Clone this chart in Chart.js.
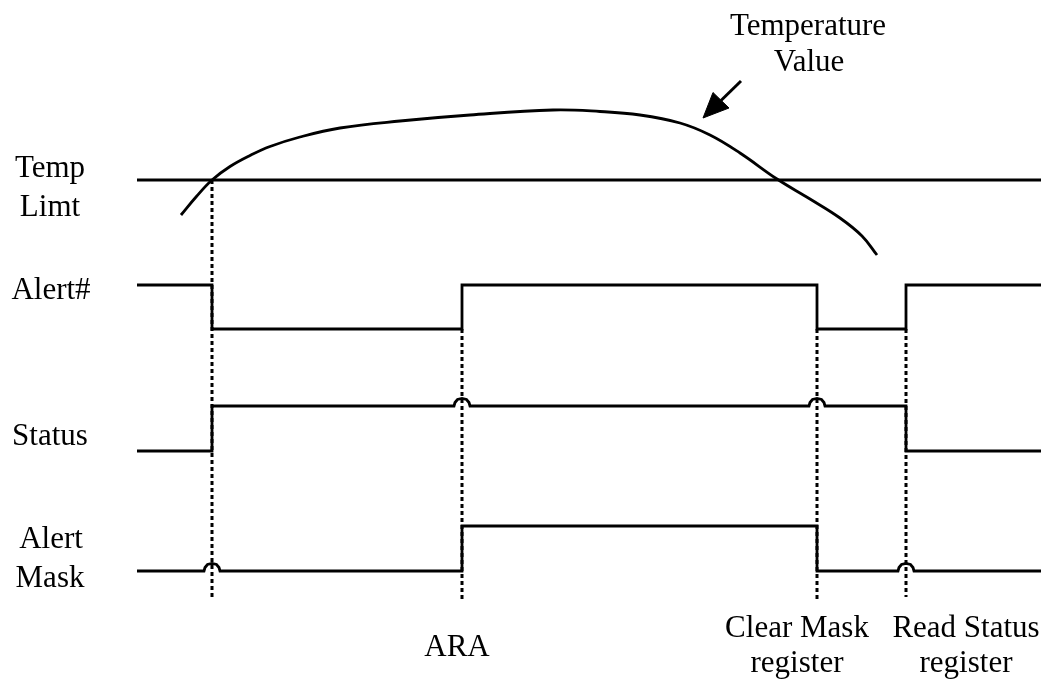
<!DOCTYPE html>
<html>
<head>
<meta charset="utf-8">
<script src="https://cdn.jsdelivr.net/npm/chart.js@4/dist/chart.umd.min.js"></script>
<style>
html,body{margin:0;padding:0;background:#fff;}
#wrap{width:1041px;height:679px;}
</style>
</head>
<body>
<div id="wrap"><canvas id="c" width="1041" height="679"></canvas></div>
<script>
// Time axis (horizontal units) and level axis (vertical units)
const limitX = [137, 1041];
const limitY = [180, 180];

const tempX = [181, 196, 212, 230, 250, 270, 300, 340, 400, 470, 553, 600, 640, 680, 710, 740, 777, 810, 840, 862, 877];
const tempY = [215, 197, 180, 166.5, 155.5, 146.5, 137, 128, 121, 115, 110, 111.5, 115, 123, 135, 153, 179, 199, 218, 236, 255];

const alertX = [137, 212, 212, 462, 462, 817, 817, 906, 906, 1041];
const alertY = [285, 285, 329, 329, 285, 285, 329, 329, 285, 285];

const statusX = [137, 212, 212, 454, 455, 457.5, 462, 466.5, 469, 470, 809, 810, 812.5, 817, 821.5, 824, 825, 906, 906, 1041];
const statusY = [451, 451, 406, 406, 402.5, 399.5, 398.5, 399.5, 402.5, 406, 406, 402.5, 399.5, 398.5, 399.5, 402.5, 406, 406, 451, 451];

const maskX = [137, 204, 205, 207.5, 212, 216.5, 219, 220, 462, 462, 817, 817, 898, 899, 901.5, 906, 910.5, 913, 914, 1041];
const maskY = [571, 571, 567.5, 564.5, 563.5, 564.5, 567.5, 571, 571, 526, 526, 571, 571, 567.5, 564.5, 563.5, 564.5, 567.5, 571, 571];

const markerX = [212, 462, 817, 906];
const markerTop = [180, 329, 329, 329];
const markerBottom = [600, 600, 600, 597];

const arrowShaftX = [741, 721];
const arrowShaftY = [81, 100.5];
const arrowHeadX = [703, 729, 713, 703];
const arrowHeadY = [118, 108, 92.5, 118];

const signalNames = ['Temp', 'Limt', 'Alert#', 'Status', 'Alert', 'Mask'];
const eventNames = ['ARA', 'Clear Mask', 'register', 'Read Status', 'register'];
const curveNames = ['Temperature', 'Value'];

function pts(xs, ys) { return xs.map((x, i) => ({x: x, y: ys[i]})); }

const black = '#000000';
const datasets = [];
function addLine(data, extra) {
  datasets.push(Object.assign({
    data: data, borderColor: black, borderWidth: 2.8, pointRadius: 0,
    tension: 0, fill: false
  }, extra || {}));
}
addLine(pts(limitX, limitY), {borderWidth: 3});
addLine(pts(tempX, tempY), {tension: 0.4, borderWidth: 2.8});
addLine(pts(alertX, alertY));
addLine(pts(statusX, statusY));
addLine(pts(maskX, maskY));
markerX.forEach((x, i) => {
  addLine([{x: x, y: markerTop[i]}, {x: x, y: markerBottom[i]}], {borderDash: [4, 3], borderWidth: 3});
});
addLine(pts(arrowShaftX, arrowShaftY), {borderWidth: 3});
addLine(pts(arrowHeadX, arrowHeadY), {borderWidth: 1, fill: 'shape', backgroundColor: black});

const font = '31px "Liberation Serif", "Times New Roman", serif';
const textItems = [
  {t: signalNames[0], x: 50, y: 177},
  {t: signalNames[1], x: 50, y: 216},
  {t: signalNames[2], x: 51, y: 299},
  {t: signalNames[3], x: 50, y: 445},
  {t: signalNames[4], x: 51, y: 548},
  {t: signalNames[5], x: 50, y: 587},
  {t: curveNames[0], x: 808, y: 35},
  {t: curveNames[1], x: 809, y: 71},
  {t: eventNames[0], x: 457, y: 656},
  {t: eventNames[1], x: 797, y: 637},
  {t: eventNames[2], x: 797, y: 672},
  {t: eventNames[3], x: 966, y: 637},
  {t: eventNames[4], x: 966, y: 672}
];

const textPlugin = {
  id: 'texts',
  afterDatasetsDraw(chart) {
    const ctx = chart.ctx;
    const xs = chart.scales.x, ys = chart.scales.y;
    ctx.save();
    ctx.fillStyle = black;
    ctx.font = font;
    ctx.textAlign = 'center';
    ctx.textBaseline = 'alphabetic';
    textItems.forEach(it => {
      ctx.fillText(it.t, xs.getPixelForValue(it.x), ys.getPixelForValue(it.y));
    });
    ctx.restore();
  }
};

new Chart(document.getElementById('c'), {
  type: 'line',
  data: {datasets: datasets},
  options: {
    responsive: false,
    animation: false,
    layout: {padding: 0},
    plugins: {legend: {display: false}, tooltip: {enabled: false}},
    scales: {
      x: {type: 'linear', min: 0, max: 1041, display: false},
      y: {type: 'linear', min: 0, max: 679, reverse: true, display: false}
    },
    elements: {line: {borderJoinStyle: 'miter', borderCapStyle: 'butt'}}
  },
  plugins: [textPlugin]
});
</script>
</body>
</html>
